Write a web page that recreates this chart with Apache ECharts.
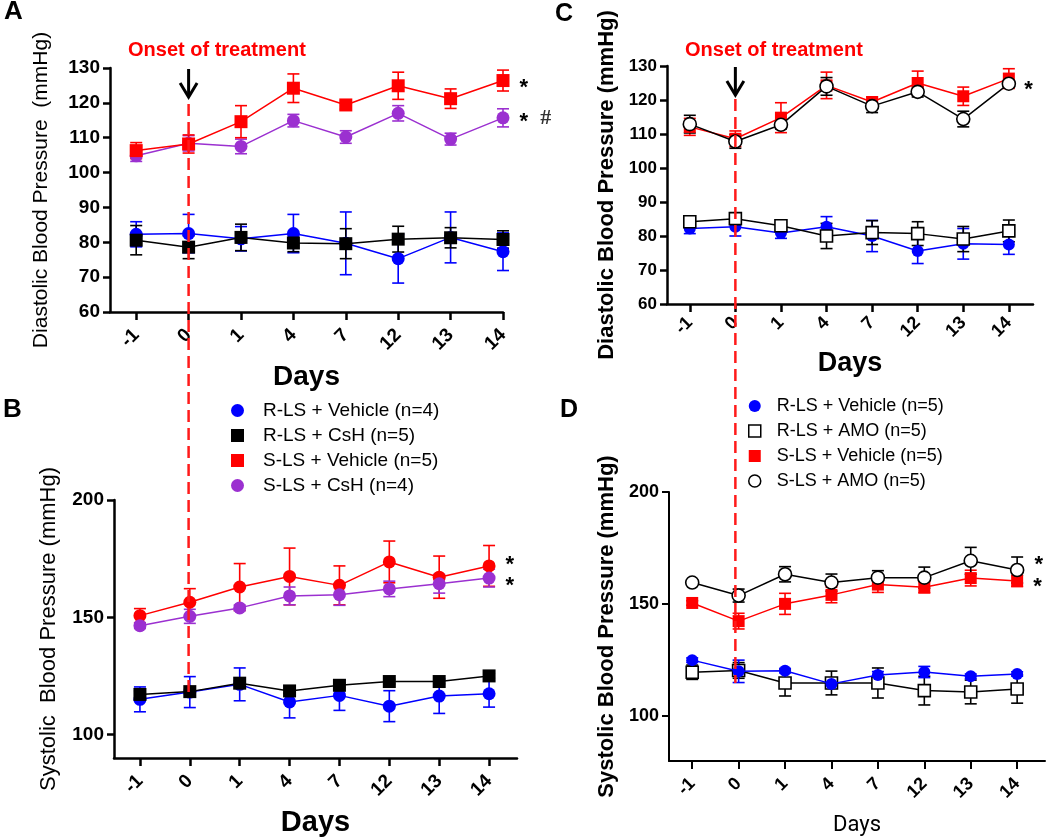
<!DOCTYPE html>
<html>
<head>
<meta charset="utf-8">
<script src="https://cdn.jsdelivr.net/npm/echarts@6/dist/echarts.min.js"></script>
<style>html,body{margin:0;padding:0;background:#fff}#c{width:1050px;height:838px}</style>
</head>
<body>
<div id="c"></div>
<script>
// ---------- data ----------
const days = ['-1', '0', '1', '4', '7', '12', '13', '14'];
const dayIdx = [0, 1, 2, 3, 4, 5, 6, 7];

const legendAB = ['R-LS + Vehicle (n=4)', 'R-LS + CsH (n=5)', 'S-LS + Vehicle (n=5)', 'S-LS + CsH (n=4)'];
const legendCD = ['R-LS + Vehicle (n=5)', 'R-LS + AMO (n=5)', 'S-LS + Vehicle (n=5)', 'S-LS + AMO (n=5)'];

// Panel A: diastolic, CsH study
const aRlsVeh = [82.3, 82.5, 81.0, 82.5, 79.7, 75.3, 81.4, 77.3];
const aRlsVehErr = [3.6, 5.5, 3.5, 5.5, 9.0, 7.0, 7.3, 5.4];
const aRlsCsh = [80.6, 78.6, 81.4, 79.8, 79.6, 80.9, 81.3, 80.8];
const aRlsCshErr = [4.2, 3.3, 3.8, 2.5, 4.3, 3.7, 2.9, 2.5];
const aSlsVeh = [106.3, 108.2, 114.6, 124.2, 119.4, 124.9, 121.2, 126.4];
const aSlsVehErr = [2.3, 2.6, 4.6, 4.1, 1.2, 3.9, 2.8, 3.0];
const aSlsCsh = [104.8, 108.4, 107.5, 114.9, 110.2, 117.0, 109.6, 115.7];
const aSlsCshErr = [1.6, 2.2, 2.1, 1.8, 1.8, 2.2, 1.7, 2.6];

// Panel B: systolic, CsH study
const bRlsVeh = [115.0, 118.1, 121.4, 113.9, 116.7, 112.1, 116.4, 117.4];
const bRlsVehErr = [5.3, 6.6, 7.0, 6.8, 6.4, 6.6, 7.4, 5.7];
const bRlsCsh = [117.1, 118.3, 121.9, 118.6, 121.0, 122.6, 122.6, 125.0];
const bRlsCshErr = [1.5, 1.0, 1.0, 1.0, 1.0, 1.0, 1.0, 1.0];
const bSlsVeh = [150.7, 156.4, 162.9, 167.4, 163.6, 173.6, 167.1, 171.9];
const bSlsVehErr = [3.0, 5.8, 10.0, 12.1, 8.3, 8.9, 9.0, 8.7];
const bSlsCsh = [146.4, 150.4, 154.0, 159.1, 159.6, 162.1, 164.3, 166.7];
const bSlsCshErr = [1.2, 3.0, 1.2, 3.8, 4.5, 3.3, 4.0, 3.8];

// Panel C: diastolic, AMO study
const cRlsVeh = [82.2, 82.7, 80.9, 82.7, 80.0, 75.6, 77.7, 77.5];
const cRlsVehErr = [1.5, 2.7, 1.6, 3.0, 4.6, 3.7, 4.5, 2.9];
const cRlsAmo = [84.2, 85.1, 83.0, 80.0, 81.0, 80.7, 79.1, 81.5];
const cRlsAmoErr = [1.0, 1.0, 1.0, 3.7, 3.5, 3.5, 3.7, 3.2];
const cSlsVeh = [112.1, 108.6, 114.8, 124.3, 119.4, 125.0, 121.1, 126.3];
const cSlsVehErr = [2.5, 2.3, 4.4, 3.9, 1.5, 3.5, 2.7, 2.9];
const cSlsAmo = [112.9, 107.8, 112.7, 124.0, 118.2, 122.4, 114.4, 124.8];
const cSlsAmoErr = [2.6, 2.0, 1.2, 2.6, 1.9, 1.5, 2.3, 1.0];

// Panel D: systolic, AMO study
const dRlsVeh = [125.0, 120.0, 120.3, 114.4, 118.4, 119.7, 117.8, 118.8];
const dRlsVehErr = [1.0, 5.0, 1.0, 2.0, 1.5, 2.5, 1.0, 1.0];
const dRlsAmo = [119.6, 120.4, 114.8, 114.8, 114.8, 111.4, 110.8, 112.1];
const dRlsAmoErr = [3.2, 3.5, 5.8, 5.3, 6.7, 6.4, 5.3, 6.3];
const dSlsVeh = [150.5, 142.4, 150.1, 154.1, 158.7, 157.5, 161.6, 160.3];
const dSlsVehErr = [1.0, 3.5, 4.7, 3.5, 3.5, 2.5, 3.5, 2.5];
const dSlsAmo = [159.6, 153.8, 163.3, 159.6, 161.8, 161.8, 169.3, 165.2];
const dSlsAmoErr = [1.0, 2.9, 3.4, 3.8, 3.1, 4.7, 6.0, 5.8];

const diaTicks = [60, 70, 80, 90, 100, 110, 120, 130];
const sysTicks = [100, 150, 200];

// ---------- helpers ----------
const FONT = 'Arial, "Liberation Sans", Helvetica, sans-serif';
const RED = '#ff0000', BLUE = '#0000ff', BLACK = '#000000', PURPLE = '#9b30d0';

function lineSeries(g, name, vals, o) {
  const n = vals.length;
  return {
    type: 'line', name: name, xAxisIndex: g, yAxisIndex: g,
    data: vals.map((v, i) => {
      const item = { value: [dayIdx[i], v] };
      if (i === n - 1 && o.note) {
        item.label = {
          show: true, position: 'right', distance: 4, offset: o.noteOffset || [6, 6],
          formatter: o.note, color: '#000', fontSize: 22, fontWeight: 'bold', fontFamily: FONT,
          rich: {
            s: { fontSize: 22, fontWeight: 'bold', fontFamily: FONT, color: '#000' },
            h: { fontSize: 22, fontFamily: '"Liberation Serif", "Times New Roman", serif', color: '#333', padding: [0, 0, 8, 0] }
          }
        };
      }
      return item;
    }),
    symbol: o.symbol, symbolSize: o.size || 13,
    itemStyle: { color: o.fill || o.color, borderColor: o.color, borderWidth: o.border || 0 },
    lineStyle: { color: o.line || o.color, width: 1.5 },
    z: o.z || 3, animation: false, clip: false,
    emphasis: { disabled: true }
  };
}

function errSeries(g, vals, errs, color, z) {
  return {
    type: 'custom', name: 'err', xAxisIndex: g, yAxisIndex: g,
    data: vals.map((v, i) => [dayIdx[i], v - errs[i], v + errs[i]]),
    encode: { x: 0, y: [1, 2] },
    z: z || 2, animation: false, silent: true,
    renderItem: function (params, api) {
      const x = api.value(0);
      const lo = api.coord([x, api.value(1)]);
      const hi = api.coord([x, api.value(2)]);
      const w = 6;
      const st = { stroke: color, lineWidth: 1.6 };
      return {
        type: 'group', children: [
          { type: 'line', shape: { x1: lo[0], y1: lo[1], x2: hi[0], y2: hi[1] }, style: st },
          { type: 'line', shape: { x1: lo[0] - w, y1: lo[1], x2: lo[0] + w, y2: lo[1] }, style: st },
          { type: 'line', shape: { x1: hi[0] - w, y1: hi[1], x2: hi[0] + w, y2: hi[1] }, style: st }
        ]
      };
    }
  };
}

function xAxis(g, min, max, fs, margin, lw, nameGap, nameStyle) {
  return {
    type: 'value', gridIndex: g, min: min, max: max,
    axisLine: { show: true, onZero: false, lineStyle: { color: '#000', width: lw } },
    axisTick: { show: true, customValues: dayIdx, length: 8, lineStyle: { color: '#000', width: lw } },
    axisLabel: {
      customValues: dayIdx, formatter: v => days[Math.round(v)], rotate: 45, margin: margin,
      fontSize: fs, fontWeight: 'bold', color: '#000', fontFamily: FONT
    },
    splitLine: { show: false },
    name: 'Days', nameLocation: 'middle', nameGap: nameGap, nameTextStyle: nameStyle
  };
}

function yAxis(g, min, max, ticks, fs, name, nameFs, nameBold, nameGap, lw) {
  return {
    type: 'value', gridIndex: g, min: min, max: max,
    axisLine: { show: true, onZero: false, lineStyle: { color: '#000', width: lw } },
    axisTick: { show: true, customValues: ticks, length: 7, lineStyle: { color: '#000', width: lw } },
    axisLabel: { customValues: ticks, margin: 10, fontSize: fs, fontWeight: 'bold', color: '#000', fontFamily: FONT },
    splitLine: { show: false },
    name: name, nameLocation: 'middle', nameGap: nameGap,
    nameTextStyle: { fontSize: nameFs, fontWeight: nameBold ? 'bold' : 'normal', color: '#000', fontFamily: FONT }
  };
}

const chart = echarts.init(document.getElementById('c'), null, { renderer: 'canvas' });

const series = [
  // Panel A
  errSeries(0, aRlsVeh, aRlsVehErr, BLUE),
  errSeries(0, aRlsCsh, aRlsCshErr, BLACK),
  errSeries(0, aSlsCsh, aSlsCshErr, PURPLE),
  errSeries(0, aSlsVeh, aSlsVehErr, RED),
  lineSeries(0, legendAB[0], aRlsVeh, { symbol: 'circle', color: BLUE, z: 3 }),
  lineSeries(0, legendAB[1], aRlsCsh, { symbol: 'rect', color: BLACK, z: 4 }),
  lineSeries(0, legendAB[3], aSlsCsh, { symbol: 'circle', color: PURPLE, z: 5, note: '{s|*}  {h|#}', noteOffset: [6, 4] }),
  lineSeries(0, legendAB[2], aSlsVeh, { symbol: 'rect', color: RED, z: 6, note: '*', noteOffset: [6, 7] }),
  // Panel B
  errSeries(1, bRlsVeh, bRlsVehErr, BLUE),
  errSeries(1, bRlsCsh, bRlsCshErr, BLACK),
  errSeries(1, bSlsVeh, bSlsVehErr, RED),
  errSeries(1, bSlsCsh, bSlsCshErr, PURPLE),
  lineSeries(1, legendAB[0], bRlsVeh, { symbol: 'circle', color: BLUE, z: 3 }),
  lineSeries(1, legendAB[1], bRlsCsh, { symbol: 'rect', color: BLACK, z: 4 }),
  lineSeries(1, legendAB[2], bSlsVeh, { symbol: 'circle', color: RED, z: 5, note: '*', noteOffset: [6, -1] }),
  lineSeries(1, legendAB[3], bSlsCsh, { symbol: 'circle', color: PURPLE, z: 6, note: '*', noteOffset: [6, 8] }),
  // Panel C
  errSeries(2, cRlsVeh, cRlsVehErr, BLUE),
  errSeries(2, cRlsAmo, cRlsAmoErr, BLACK),
  errSeries(2, cSlsVeh, cSlsVehErr, RED),
  errSeries(2, cSlsAmo, cSlsAmoErr, BLACK),
  lineSeries(2, legendCD[0], cRlsVeh, { symbol: 'circle', color: BLUE, z: 3, size: 12 }),
  lineSeries(2, legendCD[1], cRlsAmo, { symbol: 'rect', color: BLACK, fill: '#fff', border: 1.6, z: 4, size: 12 }),
  lineSeries(2, legendCD[2], cSlsVeh, { symbol: 'rect', color: RED, z: 5, size: 12 }),
  lineSeries(2, legendCD[3], cSlsAmo, { symbol: 'circle', color: BLACK, fill: '#fff', border: 1.6, z: 6, size: 13, note: '*', noteOffset: [4, 6] }),
  // Panel D
  errSeries(3, dRlsAmo, dRlsAmoErr, BLACK),
  errSeries(3, dRlsVeh, dRlsVehErr, BLUE),
  errSeries(3, dSlsVeh, dSlsVehErr, RED),
  errSeries(3, dSlsAmo, dSlsAmoErr, BLACK),
  lineSeries(3, legendCD[1], dRlsAmo, { symbol: 'rect', color: BLACK, fill: '#fff', border: 1.6, z: 3, size: 12 }),
  lineSeries(3, legendCD[0], dRlsVeh, { symbol: 'circle', color: BLUE, z: 4, size: 12 }),
  lineSeries(3, legendCD[2], dSlsVeh, { symbol: 'rect', color: RED, z: 5, size: 12, note: '*', noteOffset: [6, 6] }),
  lineSeries(3, legendCD[3], dSlsAmo, { symbol: 'circle', color: BLACK, fill: '#fff', border: 1.6, z: 6, size: 13, note: '*', noteOffset: [6, -5] })
];

const daysBold = fs => ({ fontSize: fs, fontWeight: 'bold', color: '#000', fontFamily: FONT });

chart.setOption({
  animation: false,
  backgroundColor: '#fff',
  textStyle: { fontFamily: FONT },
  grid: [
    { left: 110, top: 68, width: 393, height: 244, outerBoundsMode: 'none', containLabel: false },
    { left: 114, top: 500, width: 403, height: 258, outerBoundsMode: 'none', containLabel: false },
    { left: 667, top: 66, width: 366, height: 238, outerBoundsMode: 'none', containLabel: false },
    { left: 669, top: 492, width: 376, height: 269, outerBoundsMode: 'none', containLabel: false }
  ],
  xAxis: [
    xAxis(0, -0.5, 7, 19, 20, 2.5, 51, daysBold(28)),
    xAxis(1, -0.52, 7.56, 19, 20, 2.5, 50, daysBold(29)),
    xAxis(2, -0.5, 7.53, 18, 16, 2.5, 46, daysBold(27)),
    xAxis(3, -0.5, 7.6, 18, 20, 2, 53, { fontSize: 22, color: '#000', fontFamily: 'Roboto, sans-serif' })
  ],
  yAxis: [
    yAxis(0, 60, 130, diaTicks, 19, 'Diastolic Blood Pressure  (mmHg)', 21, false, 58, 2.5),
    yAxis(1, 90, 200, sysTicks, 19, 'Systolic  Blood Pressure (mmHg)', 22, false, 54, 2.5),
    yAxis(2, 60, 130, diaTicks, 17, 'Diastolic Blood Pressure (mmHg)', 22, true, 49, 2.5),
    yAxis(3, 80, 200, sysTicks, 18, 'Systolic Blood Pressure (mmHg)', 22, true, 51, 2)
  ],
  legend: [
    {
      left: 226, top: 396, orient: 'vertical', itemWidth: 13, itemHeight: 13, itemGap: 6,
      selectedMode: false,
      textStyle: { fontSize: 19, color: '#000', fontFamily: FONT, padding: [0, 0, 0, 14] },
      data: [
        { name: legendAB[0], icon: 'circle', itemStyle: { color: BLUE, borderWidth: 0 } },
        { name: legendAB[1], icon: 'rect', itemStyle: { color: BLACK, borderWidth: 0 } },
        { name: legendAB[2], icon: 'rect', itemStyle: { color: RED, borderWidth: 0 } },
        { name: legendAB[3], icon: 'circle', itemStyle: { color: PURPLE, borderWidth: 0 } }
      ]
    },
    {
      left: 743, top: 392, orient: 'vertical', itemWidth: 12, itemHeight: 12, itemGap: 7,
      selectedMode: false,
      textStyle: { fontSize: 18, color: '#000', fontFamily: FONT, padding: [0, 0, 0, 11] },
      data: [
        { name: legendCD[0], icon: 'circle', itemStyle: { color: BLUE, borderWidth: 0 } },
        { name: legendCD[1], icon: 'rect', itemStyle: { color: '#fff', borderColor: BLACK, borderWidth: 1.5 } },
        { name: legendCD[2], icon: 'rect', itemStyle: { color: RED, borderWidth: 0 } },
        { name: legendCD[3], icon: 'circle', itemStyle: { color: '#fff', borderColor: BLACK, borderWidth: 1.5 } }
      ]
    }
  ],
  series: series
});

// ---------- annotations tied to the axes ----------
const onsetIdx = 1; // day 0
const xAB = chart.convertToPixel({ xAxisIndex: 0 }, onsetIdx);
const xCD = chart.convertToPixel({ xAxisIndex: 2 }, onsetIdx);

function arrow(x, y1, y2) {
  return [
    { type: 'line', shape: { x1: x, y1: y1, x2: x, y2: y2 - 2 }, style: { stroke: '#000', lineWidth: 3 }, z: 20 },
    { type: 'polyline', shape: { points: [[x - 8.5, y2 - 14], [x, y2], [x + 8.5, y2 - 14]] }, style: { stroke: '#000', lineWidth: 3, fill: null }, z: 20 }
  ];
}
function dashed(x, y1, y2) {
  return { type: 'line', shape: { x1: x, y1: y1, x2: x, y2: y2 }, style: { stroke: '#ff1a1a', lineWidth: 2.5, lineDash: [12, 6] }, z: 30 };
}
function txt(x, y, t, fs, color) {
  return { type: 'text', x: x, y: y, style: { text: t, fontSize: fs, fontWeight: 'bold', fill: color, fontFamily: FONT, textVerticalAlign: 'middle' }, z: 20 };
}

chart.setOption({
  graphic: [
    txt(4, 12, 'A', 26, '#000'),
    txt(3, 410, 'B', 26, '#000'),
    txt(555, 14, 'C', 25, '#000'),
    txt(560, 410, 'D', 25, '#000'),
    txt(128, 50, 'Onset of treatment', 20, '#ff0000'),
    txt(685, 50, 'Onset of treatment', 20, '#ff0000'),
    ...arrow(xAB, 69, 97),
    ...arrow(xCD, 67, 95),
    dashed(xAB, 104, 694),
    dashed(xCD, 99, 683)
  ]
});
</script>
</body>
</html>
